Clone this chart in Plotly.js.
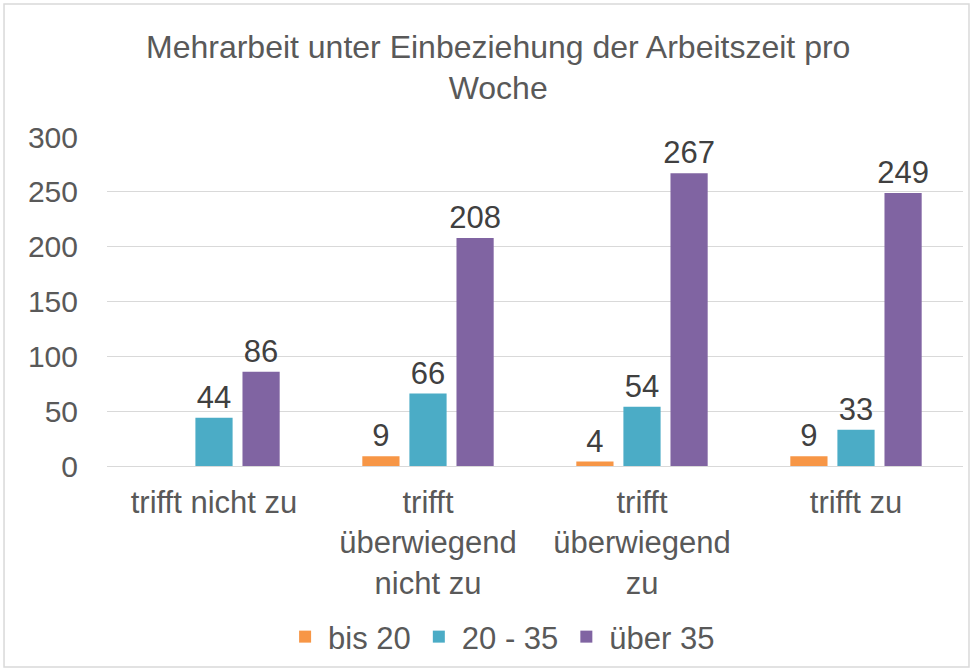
<!DOCTYPE html>
<html><head><meta charset="utf-8">
<script src="https://cdn.plot.ly/plotly-3.0.1.min.js"></script>
<style>html,body{margin:0;padding:0;background:#fff;}#chart{width:973px;height:671px;}</style>
</head><body><div id="chart"></div>
<script>
const categories = ["trifft nicht zu", "trifft<br>überwiegend<br>nicht zu", "trifft<br>überwiegend<br>zu", "trifft zu"];
const seriesNames = ["bis 20", "20 - 35", "über 35"];
const bis20 = [null, 9, 4, 9];
const s20_35 = [44, 66, 54, 33];
const ueber35 = [86, 208, 267, 249];
const colors = ["#F79646", "#4BACC6", "#8064A2"];
const allSeries = [bis20, s20_35, ueber35];
const FONT = 'Liberation Sans, Arial, sans-serif';

const traces = allSeries.map((vals, i) => ({
  type: 'bar', name: seriesNames[i], x: categories, y: vals,
  marker: {color: colors[i]},
  text: vals.map(v => v === null ? '' : String(v)),
  textposition: 'outside', cliponaxis: false, constraintext: 'none',
  textfont: {family: FONT, size: 31, color: '#404040'},
  hoverinfo: 'x+y'
}));

const layout = {
  width: 973, height: 671,
  margin: {l: 107, r: 10, t: 137, b: 205},
  paper_bgcolor: '#fff', plot_bgcolor: '#fff',
  font: {family: FONT, color: '#595959', size: 30},
  title: {text: 'Mehrarbeit unter Einbeziehung der Arbeitszeit pro<br>Woche', x: 0.512, xref: 'container', xanchor: 'center', y: 0.914, yref: 'container', yanchor: 'top',
          font: {family: FONT, size: 32, color: '#595959'}},
  bargap: 0.34, bargroupgap: 0.21,
  xaxis: {tickfont: {size: 31, color: '#595959'}, showline: false, ticks: '', automargin: false, ticklabelstandoff: 15},
  yaxis: {range: [0, 300], dtick: 50, tickfont: {size: 30, color: '#595959'}, gridcolor: '#d9d9d9', gridwidth: 1,
          zeroline: true, zerolinecolor: '#d9d9d9', zerolinewidth: 1, ticks: '', ticklen: 0, automargin: false, fixedrange: true, ticklabelstandoff: 28},
  legend: {orientation: 'h', x: 0.515, xref: 'container', xanchor: 'center', y: 0.0507, yref: 'container', yanchor: 'middle',
           bgcolor: 'rgba(0,0,0,0)', font: {size: 31, color: '#595959'}, itemwidth: 36, tracegroupgap: 0},
  showlegend: true,
  shapes: [{type: 'rect', xref: 'paper', yref: 'paper', x0: -0.1203, x1: 1.007, y0: -0.611, y1: 1.404, line: {color: '#d9d9d9', width: 1.5}, fillcolor: 'rgba(0,0,0,0)', layer: 'below'}]
};
Plotly.newPlot('chart', traces, layout, {displayModeBar: false, staticPlot: true});
</script></body></html>
